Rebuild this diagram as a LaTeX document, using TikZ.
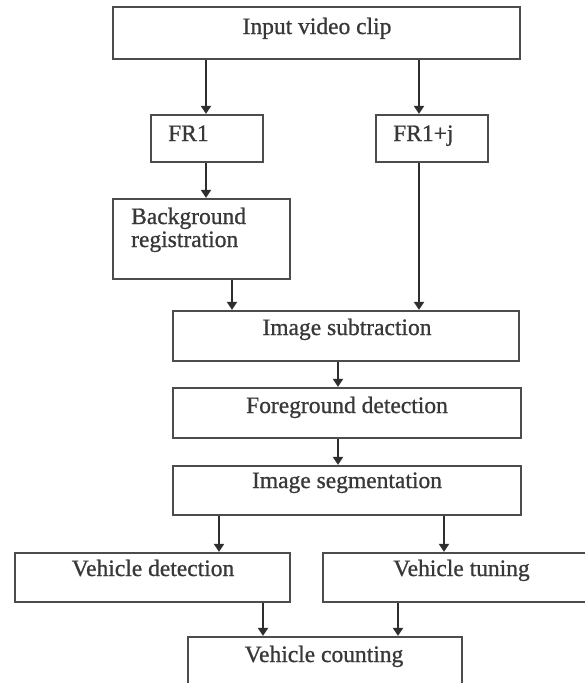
\documentclass[tikz,border=0pt]{standalone}
\usepackage{fontspec}
\setmainfont{Liberation Serif}[BoldFont={Liberation Serif},BoldFeatures={FakeBold=0.9}]
\usetikzlibrary{arrows.meta}
\begin{document}
\begin{tikzpicture}[x=1pt,y=-1pt,
  box/.style={draw=black!70, line width=2.2pt, inner sep=0pt, fill=none},
  txt/.style={inner sep=0pt, text=black!78, font=\fontsize{23.5}{23}\selectfont\bfseries},
  arr/.style={draw=black!82, line width=2.1pt, -{Triangle[width=10pt,length=8pt]}}]
\useasboundingbox (0,0) rectangle (585,683);
% boxes
\node[box, minimum width=407pt, minimum height=52pt] (in)  at (316.5,33) {};
\node[box, minimum width=112pt, minimum height=47pt] (fr1) at (207,138.5) {};
\node[box, minimum width=112pt, minimum height=47pt] (frj) at (432,138.5) {};
\node[box, minimum width=177pt, minimum height=80pt] (bg)  at (201.5,239) {};
\node[box, minimum width=346pt, minimum height=50pt] (sub) at (346,336) {};
\node[box, minimum width=348pt, minimum height=50pt] (fg)  at (347,413) {};
\node[box, minimum width=348pt, minimum height=49pt] (seg) at (347,490.5) {};
\node[box, minimum width=275pt, minimum height=49pt] (vd)  at (152.5,577.5) {};
\node[box, minimum width=265pt, minimum height=49pt] (vt)  at (455.5,577.5) {};
\node[box, minimum width=274pt, minimum height=56pt] (cnt) at (325,665) {};
% texts
\node[txt, anchor=base] (tin) at (317,34) {Input video clip};
\node[txt, anchor=base west] (tfr1) at (168,141) {FR1};
\node[txt, anchor=base west] (tfrj) at (393,141) {FR1+j};
\node[txt, anchor=base west] (tbg1) at (131,224) {Background};
\node[txt, anchor=base west] (tbg2) at (131,247) {registration};
\node[txt, anchor=base] (tsub) at (347,335) {Image subtraction};
\node[txt, anchor=base] (tfg) at (347,413) {Foreground detection};
\node[txt, anchor=base] (tseg) at (347,488) {Image segmentation};
\node[txt, anchor=base] (tvd) at (153,576) {Vehicle detection};
\node[txt, anchor=base] (tvt) at (461.5,576) {Vehicle tuning};
\node[txt, anchor=base] (tcnt) at (324,662) {Vehicle counting};
% arrow x positions
\coordinate (xa) at (206,0);
\coordinate (xb) at (419,0);
\coordinate (xc) at (232,0);
\coordinate (xd) at (338,0);
\coordinate (xe) at (219,0);
\coordinate (xf) at (444,0);
\coordinate (xg) at (263,0);
\coordinate (xh) at (398,0);
% connectors
\draw[arr] (in.south -| xa) -- (fr1.north -| xa);
\draw[arr] (in.south -| xb) -- (frj.north -| xb);
\draw[arr] (fr1.south -| xa) -- (bg.north -| xa);
\draw[arr] (bg.south -| xc) -- (sub.north -| xc);
\draw[arr] (frj.south -| xb) -- (sub.north -| xb);
\draw[arr] (sub.south -| xd) -- (fg.north -| xd);
\draw[arr] (fg.south -| xd) -- (seg.north -| xd);
\draw[arr] (seg.south -| xe) -- (vd.north -| xe);
\draw[arr] (seg.south -| xf) -- (vt.north -| xf);
\draw[arr] (vd.south -| xg) -- (cnt.north -| xg);
\draw[arr] (vt.south -| xh) -- (cnt.north -| xh);
\end{tikzpicture}
\end{document}
